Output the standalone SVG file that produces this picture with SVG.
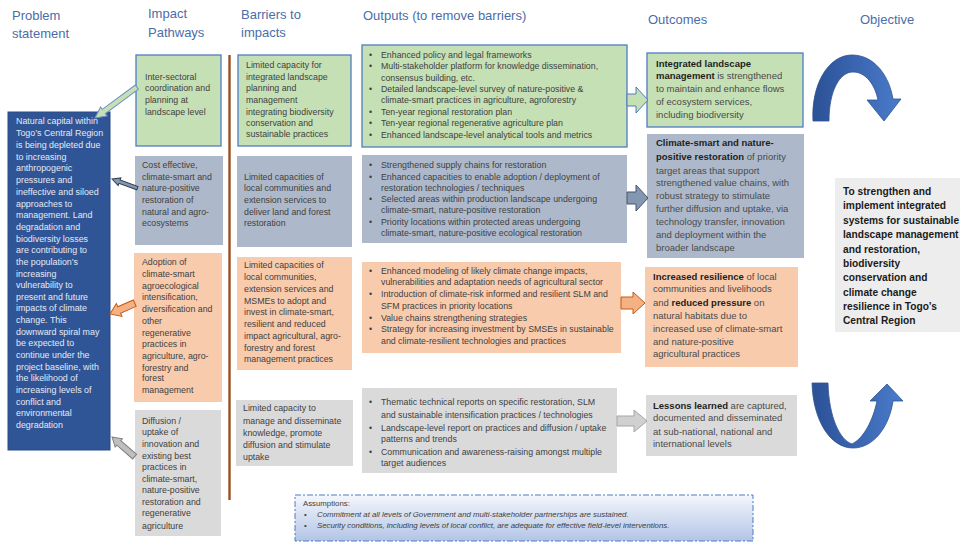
<svg xmlns="http://www.w3.org/2000/svg" width="960" height="544" viewBox="0 0 960 544">
  <style>
    .hdr { font-family: "Liberation Sans", Arial, sans-serif; font-size: 13px; fill: #4A6DAA; }
    .t { font-family: "Liberation Sans", Arial, sans-serif; font-size: 8.8px; fill: #3F3F3F; }
    .tp { font-family: "Liberation Sans", Arial, sans-serif; font-size: 8.9px; fill: #E4E9F4; }
    .to { font-family: "Liberation Sans", Arial, sans-serif; font-size: 9.5px; fill: #4A4A4A; }
    .to b, .b { font-weight: bold; fill: #1E1E1E; }
    .obj { font-family: "Liberation Sans", Arial, sans-serif; font-size: 10.2px; font-weight: bold; fill: #1A1A1A; }
    .as { font-family: "Liberation Sans", Arial, sans-serif; font-size: 7.8px; fill: #404040; }
    .green { fill: #C6E0B5; stroke: #4F7BC6; stroke-width: 1.3; }
    .slate { fill: #ADB9CA; }
    .peach { fill: #F8CBAD; }
    .grey { fill: #DADADA; }
  </style>
  <defs>
    <linearGradient id="arcTop" x1="0" y1="0" x2="1" y2="0">
      <stop offset="0" stop-color="#2B5196"/>
      <stop offset="1" stop-color="#4A7BCB"/>
    </linearGradient>
    <linearGradient id="arcBot" x1="0" y1="0" x2="1" y2="0">
      <stop offset="0" stop-color="#2B5196"/>
      <stop offset="1" stop-color="#4A7BCB"/>
    </linearGradient>
    <linearGradient id="assumeFill" x1="0" y1="0" x2="0" y2="1">
      <stop offset="0" stop-color="#F4F7FC"/>
      <stop offset="1" stop-color="#B2C4E6"/>
    </linearGradient>
  </defs>

  <rect width="960" height="544" fill="#FFFFFF"/>

  <!-- column headings -->
  <g id="headings">
    <text class="hdr" x="12" y="20">Problem</text>
    <text class="hdr" x="12" y="38">statement</text>
    <text class="hdr" x="148" y="18">Impact</text>
    <text class="hdr" x="148" y="37">Pathways</text>
    <text class="hdr" x="241" y="19">Barriers to</text>
    <text class="hdr" x="241" y="37">impacts</text>
    <text class="hdr" x="363" y="20">Outputs (to remove barriers)</text>
    <text class="hdr" x="648" y="24">Outcomes</text>
    <text class="hdr" x="860" y="24">Objective</text>
  </g>

  <!-- problem statement -->
  <g id="problem">
    <rect x="8" y="112" width="102" height="338" fill="#2F5597" stroke="#2A4C86" stroke-width="1"/>
    <text class="tp">
      <tspan x="16" y="124">Natural capital within</tspan>
      <tspan x="16" y="136">Togo’s Central Region</tspan>
      <tspan x="16" y="147.5">is being depleted due</tspan>
      <tspan x="16" y="159.5">to increasing</tspan>
      <tspan x="16" y="171">anthropogenic</tspan>
      <tspan x="16" y="183">pressures and</tspan>
      <tspan x="16" y="195">ineffective and siloed</tspan>
      <tspan x="16" y="206.5">approaches to</tspan>
      <tspan x="16" y="218">management. Land</tspan>
      <tspan x="16" y="230">degradation and</tspan>
      <tspan x="16" y="241.5">biodiversity losses</tspan>
      <tspan x="16" y="253">are contributing to</tspan>
      <tspan x="16" y="265">the population’s</tspan>
      <tspan x="16" y="276.5">increasing</tspan>
      <tspan x="16" y="288">vulnerability to</tspan>
      <tspan x="16" y="300">present and future</tspan>
      <tspan x="16" y="311">impacts of climate</tspan>
      <tspan x="16" y="323">change. This</tspan>
      <tspan x="16" y="335">downward spiral may</tspan>
      <tspan x="16" y="346">be expected to</tspan>
      <tspan x="16" y="358">continue under the</tspan>
      <tspan x="16" y="370">project baseline, with</tspan>
      <tspan x="16" y="381">the likelihood of</tspan>
      <tspan x="16" y="393">increasing levels of</tspan>
      <tspan x="16" y="405">conflict and</tspan>
      <tspan x="16" y="416">environmental</tspan>
      <tspan x="16" y="428">degradation</tspan>
    </text>
  </g>

  <!-- impact pathways -->
  <g id="impact-1">
    <rect class="green" x="136" y="55" width="85" height="91"/>
    <text class="t">
      <tspan x="145" y="80">Inter-sectoral</tspan>
      <tspan x="145" y="91">coordination and</tspan>
      <tspan x="145" y="103">planning at</tspan>
      <tspan x="145" y="115">landscape level</tspan>
    </text>
  </g>
  <g id="impact-2">
    <rect class="slate" x="135" y="156" width="88" height="89"/>
    <text class="t">
      <tspan x="142" y="168">Cost effective,</tspan>
      <tspan x="142" y="180">climate-smart and</tspan>
      <tspan x="142" y="191">nature-positive</tspan>
      <tspan x="142" y="203">restoration of</tspan>
      <tspan x="142" y="215">natural and agro-</tspan>
      <tspan x="142" y="226">ecosystems</tspan>
    </text>
  </g>
  <g id="impact-3">
    <rect class="peach" x="134" y="253" width="88" height="149"/>
    <text class="t">
      <tspan x="142" y="265">Adoption of</tspan>
      <tspan x="142" y="277">climate-smart</tspan>
      <tspan x="142" y="289">agroecological</tspan>
      <tspan x="142" y="300">intensification,</tspan>
      <tspan x="142" y="312">diversification and</tspan>
      <tspan x="142" y="324">other</tspan>
      <tspan x="142" y="336">regenerative</tspan>
      <tspan x="142" y="347">practices in</tspan>
      <tspan x="142" y="359">agriculture, agro-</tspan>
      <tspan x="142" y="371">forestry and</tspan>
      <tspan x="142" y="381">forest</tspan>
      <tspan x="142" y="393">management</tspan>
    </text>
  </g>
  <g id="impact-4">
    <rect class="grey" x="135" y="410" width="86" height="126"/>
    <text class="t">
      <tspan x="142" y="424">Diffusion /</tspan>
      <tspan x="142" y="435">uptake of</tspan>
      <tspan x="142" y="447">innovation and</tspan>
      <tspan x="142" y="459">existing best</tspan>
      <tspan x="142" y="470">practices in</tspan>
      <tspan x="142" y="482">climate-smart,</tspan>
      <tspan x="142" y="493">nature-positive</tspan>
      <tspan x="142" y="505">restoration and</tspan>
      <tspan x="142" y="516">regenerative</tspan>
      <tspan x="142" y="529">agriculture</tspan>
    </text>
  </g>

  <!-- divider between pathways and barriers -->
  <g id="divider">
    <line x1="229.5" y1="55" x2="229.5" y2="500" stroke="#9A4F22" stroke-width="2.4"/>
  </g>

  <!-- barriers -->
  <g id="barrier-1">
    <rect class="green" x="238" y="55" width="113" height="91"/>
    <text class="t">
      <tspan x="246" y="68">Limited capacity for</tspan>
      <tspan x="246" y="80">integrated landscape</tspan>
      <tspan x="246" y="91">planning and</tspan>
      <tspan x="246" y="103">management</tspan>
      <tspan x="246" y="115">integrating biodiversity</tspan>
      <tspan x="246" y="126">conservation and</tspan>
      <tspan x="246" y="137">sustainable practices</tspan>
    </text>
  </g>
  <g id="barrier-2">
    <rect class="slate" x="237" y="156" width="115" height="91"/>
    <text class="t">
      <tspan x="244" y="180">Limited capacities of</tspan>
      <tspan x="244" y="191">local communities and</tspan>
      <tspan x="244" y="203">extension services to</tspan>
      <tspan x="244" y="215">deliver land and forest</tspan>
      <tspan x="244" y="226">restoration</tspan>
    </text>
  </g>
  <g id="barrier-3">
    <rect class="peach" x="237" y="257" width="115" height="113"/>
    <text class="t">
      <tspan x="244" y="268">Limited capacities of</tspan>
      <tspan x="244" y="280">local communities,</tspan>
      <tspan x="244" y="292">extension services and</tspan>
      <tspan x="244" y="304">MSMEs to adopt and</tspan>
      <tspan x="244" y="315">invest in climate-smart,</tspan>
      <tspan x="244" y="327">resilient and reduced</tspan>
      <tspan x="244" y="339">impact agricultural, agro-</tspan>
      <tspan x="244" y="351">forestry and forest</tspan>
      <tspan x="244" y="362">management practices</tspan>
    </text>
  </g>
  <g id="barrier-4">
    <rect class="grey" x="236" y="400" width="117" height="66"/>
    <text class="t">
      <tspan x="243" y="411">Limited capacity to</tspan>
      <tspan x="243" y="424">manage and disseminate</tspan>
      <tspan x="243" y="436">knowledge, promote</tspan>
      <tspan x="243" y="448">diffusion and stimulate</tspan>
      <tspan x="243" y="460">uptake</tspan>
    </text>
  </g>

  <!-- outputs -->
  <g id="output-1">
    <rect class="green" x="362" y="45" width="265" height="102"/>
    <text class="t">
      <tspan x="369" y="58">•</tspan><tspan x="381" y="58">Enhanced policy and legal frameworks</tspan>
      <tspan x="369" y="69">•</tspan><tspan x="381" y="69">Multi-stakeholder platform for knowledge dissemination,</tspan>
      <tspan x="381" y="81">consensus building, etc.</tspan>
      <tspan x="369" y="92">•</tspan><tspan x="381" y="92">Detailed landscape-level survey of nature-positive &amp;</tspan>
      <tspan x="381" y="103">climate-smart practices in agriculture, agroforestry</tspan>
      <tspan x="369" y="115">•</tspan><tspan x="381" y="115">Ten-year regional restoration plan</tspan>
      <tspan x="369" y="126">•</tspan><tspan x="381" y="126">Ten-year regional regenerative agriculture plan</tspan>
      <tspan x="369" y="138">•</tspan><tspan x="381" y="138">Enhanced landscape-level analytical tools and metrics</tspan>
    </text>
  </g>
  <g id="output-2">
    <rect class="slate" x="362" y="155" width="265" height="88"/>
    <text class="t">
      <tspan x="369" y="168">•</tspan><tspan x="381" y="168">Strengthened supply chains for restoration</tspan>
      <tspan x="369" y="180">•</tspan><tspan x="381" y="180">Enhanced capacities to enable adoption / deployment of</tspan>
      <tspan x="381" y="191">restoration technologies / techniques</tspan>
      <tspan x="369" y="202">•</tspan><tspan x="381" y="202">Selected areas within production landscape undergoing</tspan>
      <tspan x="381" y="213">climate-smart, nature-positive restoration</tspan>
      <tspan x="369" y="225">•</tspan><tspan x="381" y="225">Priority locations within protected areas undergoing</tspan>
      <tspan x="381" y="236">climate-smart, nature-positive ecological restoration</tspan>
    </text>
  </g>
  <g id="output-3">
    <rect class="peach" x="362" y="262" width="259" height="91"/>
    <text class="t">
      <tspan x="369" y="274">•</tspan><tspan x="381" y="274">Enhanced modeling of likely climate change impacts,</tspan>
      <tspan x="381" y="285">vulnerabilities and adaptation needs of agricultural sector</tspan>
      <tspan x="369" y="297">•</tspan><tspan x="381" y="297">Introduction of climate-risk informed and resilient SLM and</tspan>
      <tspan x="381" y="309">SFM practices in priority locations</tspan>
      <tspan x="369" y="321">•</tspan><tspan x="381" y="321">Value chains strengthening strategies</tspan>
      <tspan x="369" y="332">•</tspan><tspan x="381" y="332">Strategy for increasing investment by SMSEs in sustainable</tspan>
      <tspan x="381" y="344">and climate-resilient technologies and practices</tspan>
    </text>
  </g>
  <g id="output-4">
    <rect class="grey" x="362" y="388" width="255" height="85"/>
    <text class="t">
      <tspan x="369" y="405">•</tspan><tspan x="381" y="405">Thematic technical reports on specific restoration, SLM</tspan>
      <tspan x="381" y="418">and sustainable intensification practices / technologies</tspan>
      <tspan x="369" y="431">•</tspan><tspan x="381" y="431">Landscape-level report on practices and diffusion / uptake</tspan>
      <tspan x="381" y="442">patterns and trends</tspan>
      <tspan x="369" y="455">•</tspan><tspan x="381" y="455">Communication and awareness-raising amongst multiple</tspan>
      <tspan x="381" y="466">target audiences</tspan>
    </text>
  </g>

  <!-- outcomes -->
  <g id="outcome-1">
    <rect class="green" x="647" y="53" width="156" height="74"/>
    <text class="to">
      <tspan x="656" y="67" class="b">Integrated landscape</tspan>
      <tspan x="656" y="79"><tspan class="b">management</tspan> is strengthened</tspan>
      <tspan x="656" y="92">to maintain and enhance flows</tspan>
      <tspan x="656" y="105">of ecosystem services,</tspan>
      <tspan x="656" y="118">including biodiversity</tspan>
    </text>
  </g>
  <g id="outcome-2">
    <rect class="slate" x="647" y="134" width="157" height="124"/>
    <text class="to">
      <tspan x="656" y="146" class="b">Climate-smart and nature-</tspan>
      <tspan x="656" y="160"><tspan class="b">positive restoration</tspan> of priority</tspan>
      <tspan x="656" y="174">target areas that support</tspan>
      <tspan x="656" y="186">strengthened value chains, with</tspan>
      <tspan x="656" y="199">robust strategy to stimulate</tspan>
      <tspan x="656" y="212">further diffusion and uptake, via</tspan>
      <tspan x="656" y="225">technology transfer, innovation</tspan>
      <tspan x="656" y="238">and deployment within the</tspan>
      <tspan x="656" y="251">broader landscape</tspan>
    </text>
  </g>
  <g id="outcome-3">
    <rect class="peach" x="645" y="267" width="153" height="100"/>
    <text class="to">
      <tspan x="653" y="280"><tspan class="b">Increased resilience</tspan> of local</tspan>
      <tspan x="653" y="292">communities and livelihoods</tspan>
      <tspan x="653" y="306">and <tspan class="b">reduced pressure</tspan> on</tspan>
      <tspan x="653" y="319">natural habitats due to</tspan>
      <tspan x="653" y="332">increased use of climate-smart</tspan>
      <tspan x="653" y="345">and nature-positive</tspan>
      <tspan x="653" y="357">agricultural practices</tspan>
    </text>
  </g>
  <g id="outcome-4">
    <rect class="grey" x="646" y="395" width="151" height="61"/>
    <text class="to">
      <tspan x="653" y="409"><tspan class="b">Lessons learned</tspan> are captured,</tspan>
      <tspan x="653" y="421">documented and disseminated</tspan>
      <tspan x="653" y="435">at sub-national, national and</tspan>
      <tspan x="653" y="447">international levels</tspan>
    </text>
  </g>

  <!-- objective -->
  <g id="objective">
    <rect x="835" y="178" width="130" height="154" fill="#EDEDED"/>
    <text class="obj">
      <tspan x="843" y="195">To strengthen and</tspan>
      <tspan x="843" y="209">implement integrated</tspan>
      <tspan x="843" y="224">systems for sustainable</tspan>
      <tspan x="843" y="238">landscape management</tspan>
      <tspan x="843" y="253">and restoration,</tspan>
      <tspan x="843" y="267">biodiversity</tspan>
      <tspan x="843" y="281">conservation and</tspan>
      <tspan x="843" y="296">climate change</tspan>
      <tspan x="843" y="310">resilience in Togo’s</tspan>
      <tspan x="843" y="324">Central Region</tspan>
    </text>
  </g>

  <!-- assumptions -->
  <g id="assumptions">
    <rect x="295" y="495" width="458" height="46" fill="url(#assumeFill)" stroke="#4F7BC6" stroke-width="1" stroke-dasharray="6,2,2,2"/>
    <text class="as" x="303" y="506">Assumptions:</text>
    <text class="as" font-style="italic">
      <tspan x="304" y="517" font-style="normal">•</tspan><tspan x="317" y="517">Commitment at all levels of Government and multi-stakeholder partnerships are sustained.</tspan>
      <tspan x="304" y="527.5" font-style="normal">•</tspan><tspan x="317" y="527.5">Security conditions, including levels of local conflict, are adequate for effective field-level interventions.</tspan>
    </text>
  </g>

  <!-- connectors -->
  <g id="connectors" stroke-width="1" stroke-linejoin="miter">
    <!-- pathways back to problem statement -->
    <polygon transform="translate(95,118) rotate(-36.4)" points="0,0 11,-5.5 11,-2.6 52,-2.6 52,2.6 11,2.6 11,5.5" fill="#C6E0B5" stroke="#6E8FC8"/>
    <polygon transform="translate(112,179) rotate(19.8)" points="0,0 8,-4 8,-1.8 27,-1.8 27,1.8 8,1.8 8,4" fill="#8497B0" stroke="#333F50"/>
    <polygon transform="translate(110,314) rotate(-23.7)" points="0,0 10,-7 10,-3.5 27,-3.5 27,3.5 10,3.5 10,7" fill="#F4B183" stroke="#C55A11"/>
    <polygon transform="translate(112,437) rotate(41)" points="0,0 9,-5.5 9,-3 30,-3 30,3 9,3 9,5.5" fill="#BFBFBF" stroke="#7F7F7F"/>
    <!-- outputs to outcomes -->
    <polygon points="627,94 636,94 636,87 648,100 636,113 636,106 627,106" fill="#C6E0B5" stroke="#4F7BC6"/>
    <polygon points="627,192 636,192 636,185 648,198 636,211 636,204 627,204" fill="#8497B0" stroke="#44546A"/>
    <polygon points="621,297 633,297 633,292 645,303 633,314 633,309 621,309" fill="#F4B183" stroke="#C55A11"/>
    <polygon points="617,416 634,416 634,410 647,421 634,432 634,426 617,426" fill="#D0D0D0" stroke="#A5A5A5"/>
    <!-- curved arrows toward objective -->
    <path d="M813,121 C811,85 828,55 852,55 C874,55 889,75 893,99 L901,99 L884,121 L867,100 L878,100 C875,85 866,72 853,72 C840,72 829,90 829,121 Z" fill="url(#arcTop)" stroke="#2F528F" stroke-width="0.8"/>
    <path d="M812,383 L828,383 C829,418 840,440 852,444 C864,438 873,420 877,401 L870,401 L887,384 L903,401 L893,401 C889,428 873,448 853,448 C830,448 813,420 812,383 Z" fill="url(#arcBot)" stroke="#2F528F" stroke-width="0.8"/>
  </g>
</svg>
